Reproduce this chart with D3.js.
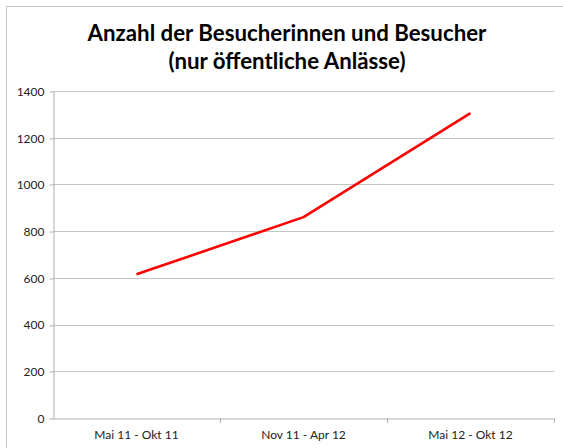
<!DOCTYPE html>
<html>
<head>
<meta charset="utf-8">
<script src="https://cdn.jsdelivr.net/npm/d3@7"></script>
<style>
  body { margin: 0; background: #fff; }
  svg { display: block; font-family: Lato, "Open Sans", sans-serif; }
</style>
</head>
<body>
<svg id="chart" width="563" height="448"></svg>
<script>
// data
const categories = ["Mai 11 - Okt 11", "Nov 11 - Apr 12", "Mai 12 - Okt 12"];
const visitors = [615, 860, 1305];
const yTicks = [0, 200, 400, 600, 800, 1000, 1200, 1400];
const titleLines = ["Anzahl der Besucherinnen und Besucher", "(nur öffentliche Anlässe)"];

const svg = d3.select("#chart");
const W = 563, H = 448;
const margin = { left: 53, right: 9, top: 91, bottom: 30 };

// outer frame
svg.append("rect")
  .attr("x", 6.5).attr("y", 6.5)
  .attr("width", W + 10).attr("height", H + 10)
  .attr("fill", "none").attr("stroke", "#c8c8c8");

// title
const title = svg.append("text")
  .attr("text-anchor", "middle")
  .attr("font-weight", "bold")
  .attr("fill", "#000");
title.selectAll("tspan")
  .data(titleLines)
  .join("tspan")
  .attr("x", 287)
  .attr("y", (d, i) => 41 + i * 28)
  .text(d => d);
// size title so first line is about 399px wide
title.attr("font-size", 20);
const w0 = title.select("tspan").node().getComputedTextLength();
title.attr("font-size", 20 * 399 / w0);

/* scales */
const x = d3.scaleBand()
  .domain(categories)
  .range([margin.left, W - margin.right]);
const y = d3.scaleLinear()
  .domain([0, 1400])
  .range([H - margin.bottom, margin.top]);

// gridlines
svg.append("g")
  .selectAll("line")
  .data(yTicks.filter(d => d > 0))
  .join("line")
  .attr("x1", margin.left).attr("x2", W - margin.right)
  .attr("y1", d => Math.round(y(d)) + 0.5)
  .attr("y2", d => Math.round(y(d)) + 0.5)
  .attr("stroke", "#c4c4c4");

// y axis
const yAxis = svg.append("g")
  .attr("transform", `translate(${margin.left + 0.5},0.5)`)
  .call(d3.axisLeft(y).tickValues(yTicks).tickFormat(d3.format("d"))
    .tickSize(4).tickSizeOuter(0).tickPadding(5))
  .call(g => g.select(".domain").attr("stroke", "#b0b0b0"));
yAxis.selectAll(".tick line").attr("stroke", "#b0b0b0");
yAxis.selectAll(".tick line").attr("transform", d => `translate(0,${Math.round(y(d)) - y(d)})`);
yAxis.selectAll("text").attr("font-size", 12).attr("fill", "#222").attr("font-family", "Lato, sans-serif");

// x axis
const xAxis = svg.append("g")
  .attr("transform", `translate(0,${Math.round(y(0)) + 0.5})`)
  .call(d3.axisBottom(x).tickSize(0).tickPadding(12))
  .call(g => g.select(".domain").attr("stroke", "#b0b0b0"));
xAxis.selectAll("text").attr("font-size", 12).attr("fill", "#222").attr("font-family", "Lato, sans-serif");
// category boundary ticks
svg.append("g")
  .selectAll("line")
  .data(categories)
  .join("line")
  .attr("x1", d => Math.round(x(d) + x.bandwidth()) + 0.5)
  .attr("x2", d => Math.round(x(d) + x.bandwidth()) + 0.5)
  .attr("y1", Math.round(y(0)))
  .attr("y2", Math.round(y(0)) + 5)
  .attr("stroke", "#b0b0b0");

// line
const line = d3.line()
  .x((d, i) => x(categories[i]) + x.bandwidth() / 2)
  .y(d => y(d));
svg.append("path")
  .datum(visitors)
  .attr("d", line)
  .attr("fill", "none")
  .attr("stroke", "#ff0000")
  .attr("stroke-width", 2.6)
  .attr("stroke-linejoin", "round");
</script>
</body>
</html>
